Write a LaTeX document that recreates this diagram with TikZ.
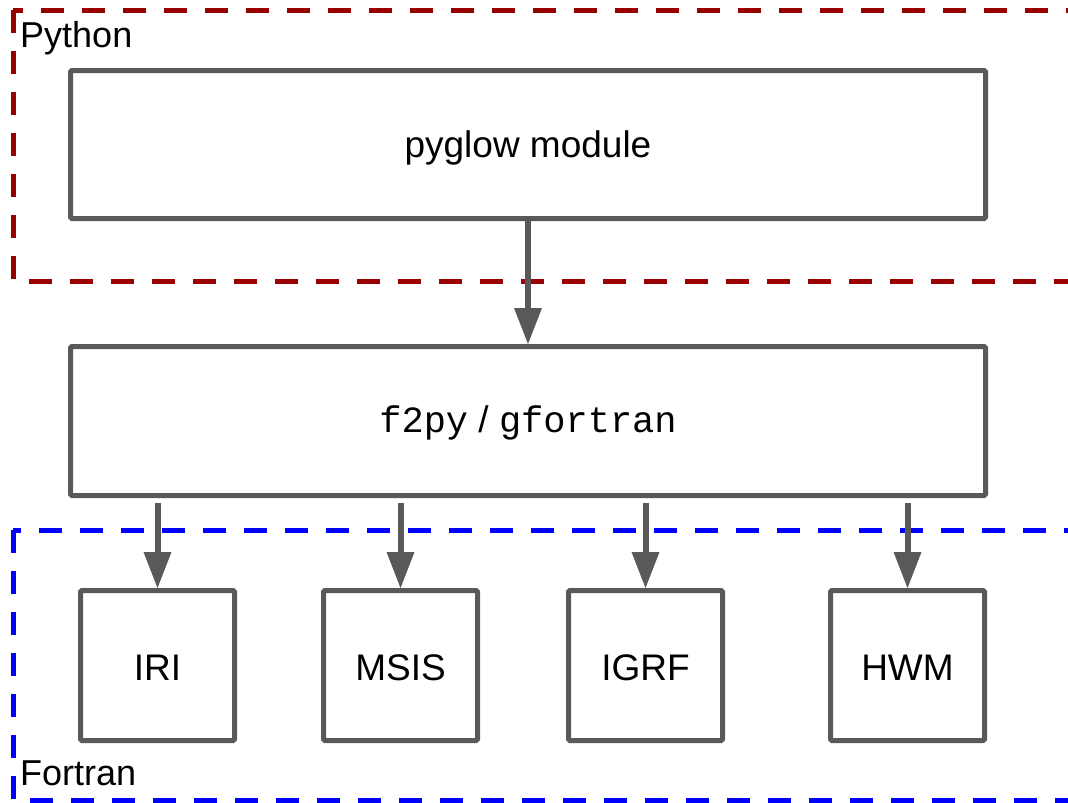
\documentclass[tikz,border=0pt]{standalone}
\usepackage{fontspec}
\setmainfont{Liberation Sans}
\setmonofont{Liberation Mono}
\usetikzlibrary{arrows.meta}
\definecolor{gr}{HTML}{595959}
\definecolor{pyred}{HTML}{990000}
\definecolor{ftblue}{HTML}{0000FF}
\begin{document}
\begin{tikzpicture}[x=1pt,y=-1pt,
  box/.style={draw=gr, line width=5pt, rounded corners=1.5pt, fill=white, inner sep=0pt,
    text depth=0pt, font=\fontsize{37}{44}\selectfont},
  wide/.style={box, minimum width=915pt},
  small/.style={box, minimum width=154pt, minimum height=150pt, text height=30pt},
  arr/.style={draw=gr, line width=6pt, -{Triangle[width=28pt,length=36pt,line width=0pt]}},
  grp/.style={line width=5pt, dash pattern=on 23pt off 18pt},
  lbl/.style={anchor=base west, inner sep=0pt, font=\fontsize{36}{42}\selectfont}]
\useasboundingbox (0,0) rectangle (1068,803);
\clip (0,0) rectangle (1068,803);
% groups
\draw[grp, draw=pyred] (13,10) rectangle (1100,281);
\draw[grp, draw=ftblue] (13,530) rectangle (1100,800);
\node[lbl] (pylbl) at (20,47) {Python};
\node[lbl] (ftlbl) at (20,785) {Fortran};
% boxes
\node[wide, minimum height=148pt, text height=25pt] (pyglow) at (528,144.5) {pyglow module};
\node[wide, minimum height=149pt, text height=22pt] (f2py) at (528,421)
  {{\ttfamily f2py} / {\ttfamily gfortran}};
\node[small] (iri) at (157.5,665.5) {IRI};
\node[small] (msis) at (400.5,665.5) {MSIS};
\node[small] (igrf) at (645.5,665.5) {IGRF};
\node[small] (hwm) at (907.5,665.5) {HWM};
% arrows
\draw[arr] (pyglow.south) -- (f2py.north);
\foreach \t in {iri,msis,igrf,hwm}
  \draw[arr, shorten <=5pt] (f2py.south -| \t.north) -- (\t.north);
\end{tikzpicture}
\end{document}
